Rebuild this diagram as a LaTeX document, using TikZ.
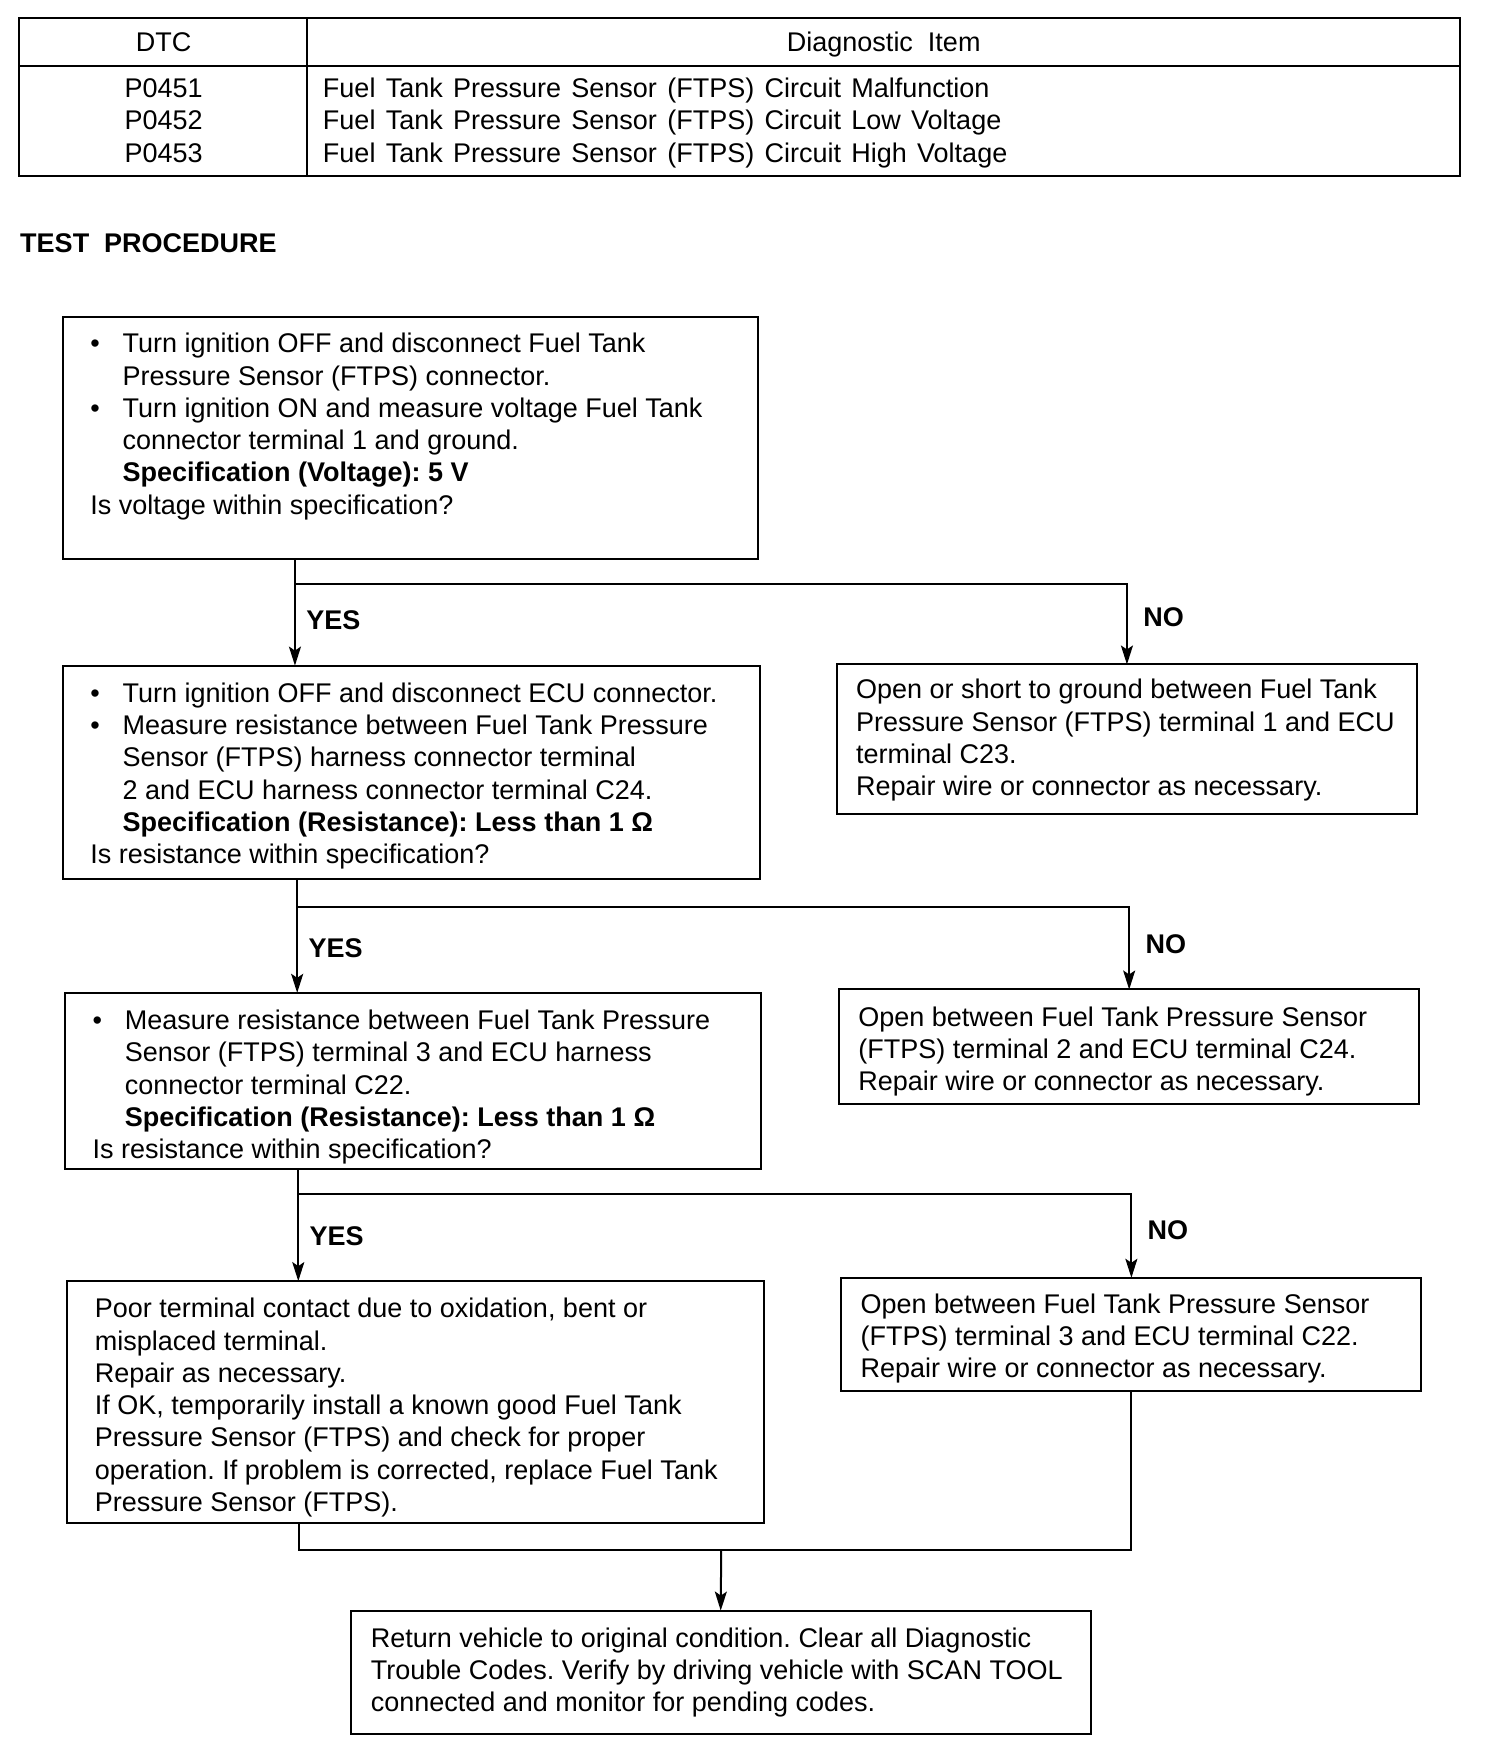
\documentclass[tikz,border=0pt]{standalone}
\usepackage{fontspec}
\setmainfont{Liberation Sans}
\usetikzlibrary{arrows.meta}
\newcommand{\pxu}{1.113pt}
\newcommand{\bul}{\makebox[32.3pt][l]{\textbullet}}
\newcommand{\ind}{\hspace*{32.3pt}}
\newskip\widespskip
\widespskip=10.3pt plus 2pt minus 1pt
\newcommand{\widesp}{\spaceskip=\widespskip}
\frenchspacing
\begin{document}
\begin{tikzpicture}[x=1.113pt,y=-1.113pt,
  box/.style={draw, line width=2pt, inner sep=0pt, outer sep=0pt, anchor=north west},
  txt/.style={anchor=north west, align=left, inner sep=0pt, font=\fontsize{27}{32.3}\selectfont\frenchspacing},
  cell/.style={inner sep=0pt, font=\fontsize{27}{32.3}\selectfont},
  wcell/.style={inner sep=0pt, font=\fontsize{27}{32.3}\selectfont\widesp},
  lbl/.style={anchor=base west, inner sep=0pt, font=\fontsize{27}{32.3}\selectfont\bfseries},
  conn/.style={line width=2pt},
  arr/.style={line width=2pt, -{Stealth[length=19pt,width=12pt,inset=4pt]}},
]
\useasboundingbox (0,0) rectangle (1351.3,1568.7);

% ---------- table ----------
\node[box, minimum width=1295*\pxu, minimum height=142*\pxu] (tbl) at (17,16) {};
\draw[conn] (17,59) -- (1312,59);
\draw[conn] (276,16) -- (276,158);
\node[cell, anchor=base] (hdtc) at (147,46.7) {DTC};
\node[cell, anchor=base] (hitem) at (794,46.7) {Diagnostic\ \ Item};
\node[cell, anchor=base] (c1) at (147,87.7) {P0451};
\node[cell, anchor=base] (c2) at (147,116.7) {P0452};
\node[cell, anchor=base] (c3) at (147,145.7) {P0453};
\node[wcell, anchor=base west] (d1) at (290,87.7) {Fuel Tank Pressure Sensor (FTPS) Circuit Malfunction};
\node[wcell, anchor=base west] (d2) at (290,116.7) {Fuel Tank Pressure Sensor (FTPS) Circuit Low Voltage};
\node[wcell, anchor=base west] (d3) at (290,145.7) {Fuel Tank Pressure Sensor (FTPS) Circuit High Voltage};

\node[lbl] (title) at (18,226.7) {TEST\ \ PROCEDURE};

% ---------- boxes ----------
\node[box, minimum width=624*\pxu, minimum height=217*\pxu] (b1) at (57,285) {};
\node[box, minimum width=626*\pxu, minimum height=192*\pxu] (b2) at (57,598) {};
\node[box, minimum width=626*\pxu, minimum height=158*\pxu] (b3) at (58,892) {};
\node[box, minimum width=626*\pxu, minimum height=217*\pxu] (b4) at (60,1151) {};
\node[box, minimum width=521*\pxu, minimum height=134*\pxu] (n1) at (752,597) {};
\node[box, minimum width=521*\pxu, minimum height=103*\pxu] (n2) at (754,889) {};
\node[box, minimum width=521*\pxu, minimum height=102*\pxu] (n3) at (756,1148) {};
\node[box, minimum width=665*\pxu, minimum height=111*\pxu] (b5) at (315,1447) {};

% ---------- texts ----------
\node[txt] (t1) at (81,296.4) {\strut\bul Turn ignition OFF and disconnect Fuel Tank\\
\ind Pressure Sensor (FTPS) connector.\\
\bul Turn ignition ON and measure voltage Fuel Tank\\
\ind connector terminal 1 and ground.\\
\ind\textbf{Specification (Voltage): 5 V}\\
Is voltage within specification?};

\node[txt] (t2) at (81,610.4) {\strut\bul Turn ignition OFF and disconnect ECU connector.\\
\bul Measure resistance between Fuel Tank Pressure\\
\ind Sensor (FTPS) harness connector terminal\\
\ind 2 and ECU harness connector terminal C24.\\
\ind\textbf{Specification (Resistance): Less than 1 Ω}\\
Is resistance within specification?};

\node[txt] (t3) at (83,904.4) {\strut\bul Measure resistance between Fuel Tank Pressure\\
\ind Sensor (FTPS) terminal 3 and ECU harness\\
\ind connector terminal C22.\\
\ind\textbf{Specification (Resistance): Less than 1 Ω}\\
Is resistance within specification?};

\node[txt] (t4) at (85,1163.4) {\strut Poor terminal contact due to oxidation, bent or\\
misplaced terminal.\\
Repair as necessary.\\
If OK, temporarily install a known good Fuel Tank\\
Pressure Sensor (FTPS) and check for proper\\
operation. If problem is corrected, replace Fuel Tank\\
Pressure Sensor (FTPS).};

\node[txt] (tn1) at (769,607.4) {\strut Open or short to ground between Fuel Tank\\
Pressure Sensor (FTPS) terminal 1 and ECU\\
terminal C23.\\
Repair wire or connector as necessary.};

\node[txt] (tn2) at (771,901.4) {\strut Open between Fuel Tank Pressure Sensor\\
(FTPS) terminal 2 and ECU terminal C24.\\
Repair wire or connector as necessary.};

\node[txt] (tn3) at (773,1159.4) {\strut Open between Fuel Tank Pressure Sensor\\
(FTPS) terminal 3 and ECU terminal C22.\\
Repair wire or connector as necessary.};

\node[txt] (t5) at (333,1459.4) {\strut Return vehicle to original condition. Clear all Diagnostic\\
Trouble Codes. Verify by driving vehicle with SCAN TOOL\\
connected and monitor for pending codes.};

% ---------- labels ----------
\node[lbl] (y1) at (275,565.7) {YES};
\node[lbl] (no1) at (1027,562.7) {NO};
\node[lbl] (y2) at (277,860.7) {YES};
\node[lbl] (no2) at (1029,856.7) {NO};
\node[lbl] (y3) at (278,1118.7) {YES};
\node[lbl] (no3) at (1031,1113.7) {NO};

% ---------- connectors ----------
\coordinate (j1) at (265,525);
\coordinate (j2) at (267,815);
\coordinate (j3) at (268,1073);
\coordinate (k4) at (269,1393);
\coordinate (m) at (648,1393);

\draw[conn] (j1 |- b1.south) -- (j1);
\draw[arr] (j1) -- (j1 |- b2.north);
\draw[arr] (j1) -| (n1.north);

\draw[conn] (j2 |- b2.south) -- (j2);
\draw[arr] (j2) -- (j2 |- b3.north);
\draw[arr] (j2) -| (n2.north);

\draw[conn] (j3 |- b3.south) -- (j3);
\draw[arr] (j3) -- (j3 |- b4.north);
\draw[arr] (j3) -| (n3.north);

\draw[conn] (k4 |- b4.south) -- (k4) -- (m) -| (n3.south);
\draw[arr] (m) -- (b5.north);
\end{tikzpicture}
\end{document}
